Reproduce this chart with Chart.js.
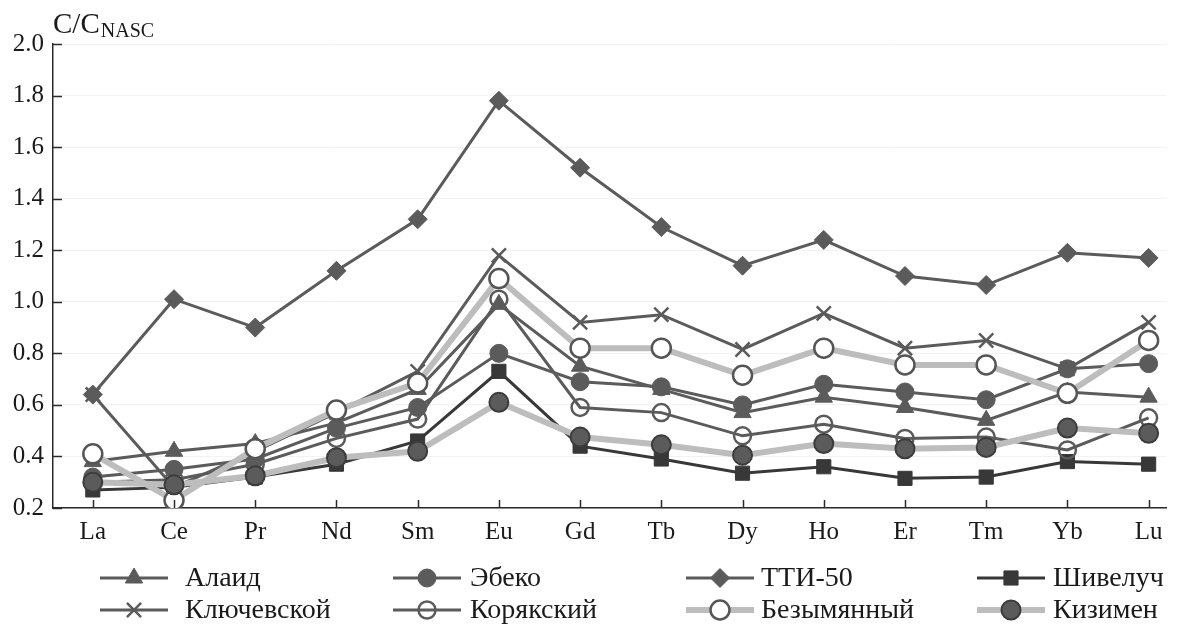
<!DOCTYPE html>
<html><head><meta charset="utf-8">
<script src="https://cdn.jsdelivr.net/npm/chart.js@4"></script>
<style>html,body{margin:0;padding:0;background:#fff}</style>
</head><body>
<canvas id="c" width="1179" height="626"></canvas>
<script>
const categories = ['La','Ce','Pr','Nd','Sm','Eu','Gd','Tb','Dy','Ho','Er','Tm','Yb','Lu'];
const yTicks = [0.2,0.4,0.6,0.8,1.0,1.2,1.4,1.6,1.8,2.0];
const seriesNames = ['Алаид','Эбеко','ТТИ-50','Шивелуч','Ключевской','Корякский','Безымянный','Кизимен'];

const alaid       = [0.38,0.42,0.45,0.53,0.66,0.99,0.75,0.66,0.57,0.63,0.59,0.54,0.65,0.63];
const ebeko       = [0.32,0.35,0.39,0.51,0.59,0.80,0.69,0.67,0.60,0.68,0.65,0.62,0.74,0.76];
const tti50       = [0.64,1.01,0.90,1.12,1.32,1.78,1.52,1.29,1.14,1.24,1.10,1.065,1.19,1.17];
const shiveluch   = [0.27,0.28,0.32,0.37,0.46,0.73,0.44,0.39,0.335,0.36,0.315,0.32,0.38,0.37];
const klyuchevskoy= [0.64,0.28,0.42,0.57,0.73,1.18,0.92,0.95,0.815,0.955,0.82,0.85,0.74,0.92];
const koryaksky   = [0.30,0.31,0.37,0.47,0.545,1.01,0.59,0.57,0.48,0.525,0.47,0.475,0.425,0.55];
const bezymyanny  = [0.41,0.23,0.43,0.58,0.685,1.09,0.82,0.82,0.715,0.82,0.755,0.755,0.645,0.85];
const kizimen     = [0.30,0.29,0.325,0.395,0.42,0.61,0.475,0.445,0.405,0.45,0.43,0.435,0.51,0.49];

const DARK = '#5b5b5b', DARKER = '#383838', LIGHT = '#bdbdbd';
const FONT = '"Liberation Serif", "Times New Roman", serif';

function pts(arr){ return arr.map((v,i)=>({x:i,y:v})); }

const styles = [
  {data: alaid, pointStyle:'triangle', bg:DARK, bc:DARK, r:10, pbw:1, line:DARK, lw:3, order:6},
  {data: ebeko, pointStyle:'circle', bg:DARK, bc:DARK, r:9, pbw:1, line:DARK, lw:3, order:5},
  {data: tti50, pointStyle:'rectRot', bg:DARK, bc:DARK, r:9.5, pbw:1, line:DARK, lw:3, order:1},
  {data: shiveluch, pointStyle:'rect', bg:DARKER, bc:DARKER, r:10, pbw:1, line:DARKER, lw:3, order:8},
  {data: klyuchevskoy, pointStyle:'crossRot', bg:DARK, bc:DARK, r:10, pbw:2.5, line:DARK, lw:3, order:4},
  {data: koryaksky, pointStyle:'circle', bg:'rgba(0,0,0,0)', bc:DARK, r:8.5, pbw:2.5, line:DARK, lw:3, order:7},
  {data: bezymyanny, pointStyle:'circle', bg:'#ffffff', bc:'#555555', r:9.5, pbw:2.5, line:LIGHT, lw:6, order:3},
  {data: kizimen, pointStyle:'circle', bg:DARK, bc:'#3c3c3c', r:9.5, pbw:2, line:LIGHT, lw:6, order:2}
];

const datasets = styles.map((s,i)=>({
  label: seriesNames[i],
  data: pts(s.data),
  borderColor: s.line,
  borderWidth: s.lw,
  backgroundColor: s.bg,
  pointStyle: s.pointStyle,
  pointRadius: s.r,
  pointBackgroundColor: s.bg,
  pointBorderColor: s.bc,
  pointBorderWidth: s.pbw,
  tension: 0,
  order: s.order
}));

function drawMarker(ctx, s, x, y){
  ctx.save();
  ctx.fillStyle = s.bg; ctx.strokeStyle = s.bc; ctx.lineWidth = s.pbw;
  const r = s.r;
  ctx.beginPath();
  if (s.pointStyle === 'circle') { ctx.arc(x,y,r,0,Math.PI*2); ctx.fill(); ctx.stroke(); }
  else if (s.pointStyle === 'triangle') {
    const h = r*1.5; const side = 3*r/Math.sqrt(3);
    ctx.moveTo(x, y - r); ctx.lineTo(x + side/2, y + h - r); ctx.lineTo(x - side/2, y + h - r); ctx.closePath(); ctx.fill(); ctx.stroke();
  } else if (s.pointStyle === 'rectRot') {
    ctx.moveTo(x, y-r); ctx.lineTo(x+r, y); ctx.lineTo(x, y+r); ctx.lineTo(x-r, y); ctx.closePath(); ctx.fill(); ctx.stroke();
  } else if (s.pointStyle === 'rect') {
    const h = r*Math.SQRT1_2; ctx.rect(x-h, y-h, 2*h, 2*h); ctx.fill(); ctx.stroke();
  } else if (s.pointStyle === 'crossRot') {
    const h = r*Math.SQRT1_2; ctx.moveTo(x-h,y-h); ctx.lineTo(x+h,y+h); ctx.moveTo(x+h,y-h); ctx.lineTo(x-h,y+h); ctx.stroke();
  }
  ctx.restore();
}

const extras = {
  id: 'extras',
  afterDraw(chart){
    const ctx = chart.ctx;
    const xs = chart.scales.x, ys = chart.scales.y;
    const ca = chart.chartArea;
    ctx.save();
    // inward ticks
    ctx.strokeStyle = '#2a2a2a'; ctx.lineWidth = 1.5;
    yTicks.forEach(v=>{
      const py = Math.round(ys.getPixelForValue(v)) + 0.5;
      ctx.beginPath(); ctx.moveTo(ca.left, py); ctx.lineTo(ca.left + 9, py); ctx.stroke();
    });
    categories.forEach((c,i)=>{
      const px = Math.round(xs.getPixelForValue(i)) + 0.5;
      ctx.beginPath(); ctx.moveTo(px, ca.bottom); ctx.lineTo(px, ca.bottom - 8); ctx.stroke();
    });
    // axis title C/C_NASC
    ctx.fillStyle = '#1a1a1a';
    ctx.textBaseline = 'alphabetic'; ctx.textAlign = 'left';
    ctx.font = '29px ' + FONT;
    ctx.fillText('C/C', 53, 33);
    const w = ctx.measureText('C/C').width;
    ctx.font = '20px ' + FONT;
    ctx.fillText('NASC', 53 + w + 1, 37);
    // legend
    const lineStarts = [100, 393, 686, 977];
    const textStarts = [185, 470, 761, 1053];
    const rows = [578, 610];
    ctx.font = '28px ' + FONT;
    ctx.textBaseline = 'middle';
    styles.forEach((s,i)=>{
      const col = i % 4, cy = rows[Math.floor(i/4)];
      const cx = lineStarts[col];
      ctx.strokeStyle = s.line; ctx.lineWidth = s.lw; ctx.lineCap = 'butt';
      ctx.beginPath(); ctx.moveTo(cx, cy); ctx.lineTo(cx + 68, cy); ctx.stroke();
      drawMarker(ctx, s, cx + 34, cy);
      ctx.fillStyle = '#1a1a1a';
      ctx.fillText(seriesNames[i], textStarts[col], cy + 1);
    });
    ctx.restore();
  }
};

new Chart(document.getElementById('c'), {
  type: 'line',
  data: { datasets },
  options: {
    responsive: false,
    animation: false,
    devicePixelRatio: 1,
    layout: { padding: { top: 44, right: 9, bottom: 78, left: 0 } },
    plugins: { legend: { display: false }, tooltip: { enabled: false } },
    scales: {
      x: {
        type: 'linear',
        min: -0.49, max: 13.22,
        afterBuildTicks: (sc)=>{ sc.ticks = categories.map((c,i)=>({value:i})); },
        afterFit: (sc)=>{ sc.height = 40; },
        ticks: { callback: (v)=>categories[v], color:'#1a1a1a', font:{family:FONT, size:25}, padding: 9, maxRotation:0, autoSkip:false },
        grid: { display: true, color: 'rgba(0,0,0,0)', drawTicks: false },
        border: { display: true, color: '#2a2a2a', width: 1.5 }
      },
      y: {
        type: 'linear',
        min: 0.2, max: 2.0,
        afterBuildTicks: (sc)=>{ sc.ticks = yTicks.map(v=>({value:v})); },
        afterFit: (sc)=>{ sc.width = 53; },
        ticks: { callback: (v)=>v.toFixed(1), color:'#1a1a1a', font:{family:FONT, size:25}, padding: 9 },
        grid: { color: 'rgba(0,0,0,0.05)', drawTicks: false, lineWidth: 1 },
        border: { display: true, color: '#2a2a2a', width: 1.5 }
      }
    }
  },
  plugins: [extras]
});
</script>
</body></html>
